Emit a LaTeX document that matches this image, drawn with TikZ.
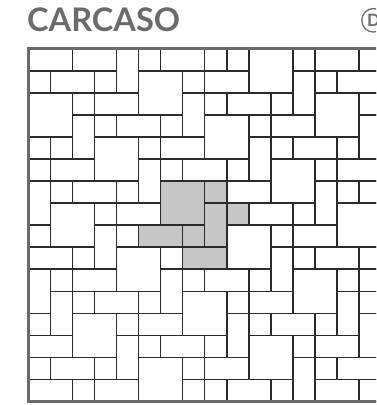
\documentclass[tikz,border=0pt]{standalone}
\usepackage{fontspec}
\setmainfont{Lato}
\definecolor{titlegray}{HTML}{6B6B6B}
\definecolor{framegray}{HTML}{6A6A6A}
\definecolor{tileline}{HTML}{2B2B2B}
\definecolor{tilefill}{HTML}{C6C6C6}
\tikzset{
  tileedge/.style={draw=tileline, line width=1.5pt},
  tilegray/.style={fill=tilefill},
  framestyle/.style={draw=framegray, line width=3pt},
}
\begin{document}
\begin{tikzpicture}[x=1pt,y=-1pt]
\useasboundingbox (0,0) rectangle (376,405);
\clip (0,0) rectangle (376,405);
\node[anchor=base west, inner sep=0, text=titlegray,
      font=\bfseries\fontsize{32.5}{32.5}\selectfont] (title) at (27,31.6) {CARCASO};
\node[circle, draw=titlegray, line width=1.3pt, minimum size=23.5pt, inner sep=0,
      text=titlegray, font=\bfseries\fontsize{17}{17}\selectfont] (dmark) at (373.5,20.3) {D};
\begin{scope}
  \clip (28.3,48.7) rectangle (377,401.5);
  \begin{scope}[shift={(28.3pt,-48.7pt)}, x=22.05pt, y=-22.05pt]
    % highlighted unit
    \fill[tilegray] (6,6) rectangle ++(2,2);
    \fill[tilegray] (8,6) rectangle ++(1,1);
    \fill[tilegray] (8,7) rectangle ++(1,2);
    \fill[tilegray] (9,7) rectangle ++(1,1);
    \fill[tilegray] (5,8) rectangle ++(2,1);
    \fill[tilegray] (7,8) rectangle ++(1,1);
    \fill[tilegray] (7,9) rectangle ++(2,1);
    \foreach \i in {-6,...,6} {
      \foreach \j in {-6,...,6} {
        \pgfmathsetmacro\ox{3*\i+2*\j}
        \pgfmathsetmacro\oy{2*\i-3*\j}
        \begin{scope}[shift={(\ox,\oy)}]
          \draw[tileedge] (6,6) rectangle ++(2,2);
          \draw[tileedge] (8,6) rectangle ++(1,1);
          \draw[tileedge] (8,7) rectangle ++(1,2);
          \draw[tileedge] (9,7) rectangle ++(1,1);
          \draw[tileedge] (5,8) rectangle ++(2,1);
          \draw[tileedge] (7,8) rectangle ++(1,1);
          \draw[tileedge] (7,9) rectangle ++(2,1);
        \end{scope}
      }
    }
  \end{scope}
\end{scope}
\coordinate (ftr) at (377,48.7);
\coordinate (ftl) at (28.3,48.7);
\coordinate (fbl) at (28.3,401.5);
\coordinate (fbr) at (377,401.5);
\draw[framestyle] (ftr) -- (ftl) -- (fbl) -- (fbr);
\end{tikzpicture}
\end{document}
